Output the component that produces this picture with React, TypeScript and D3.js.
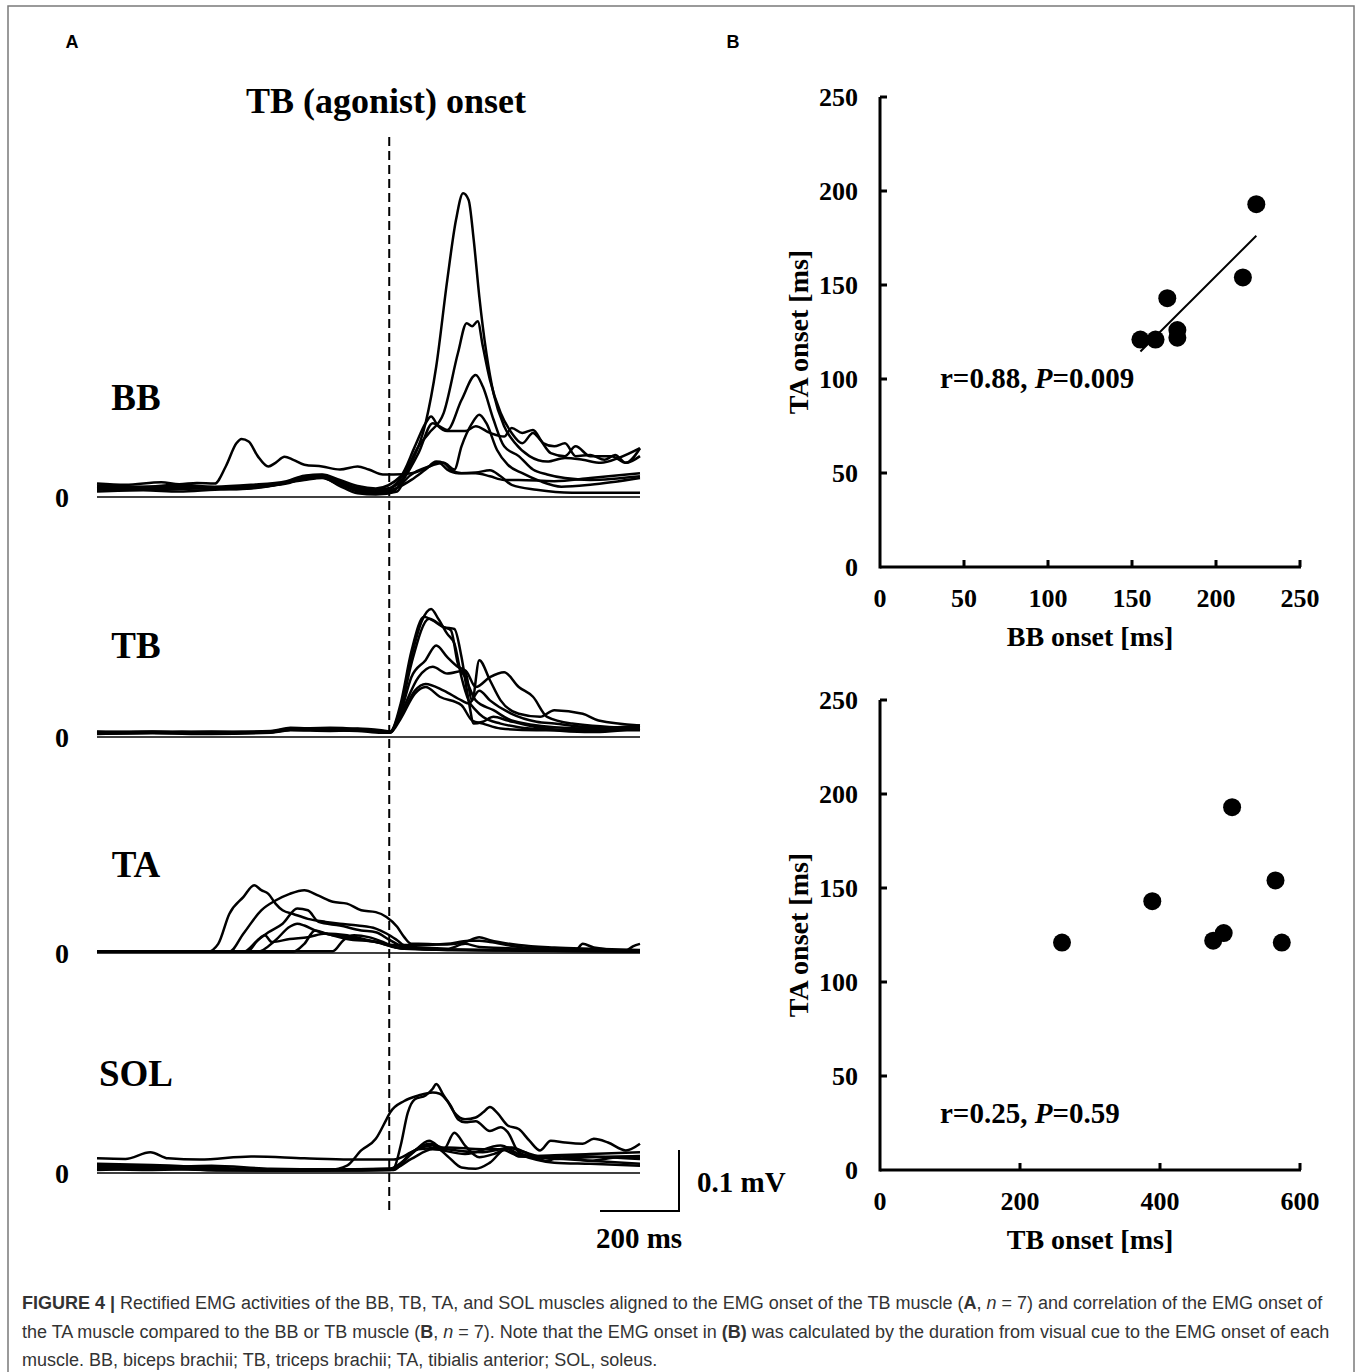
import * as d3 from 'd3'

// ---- Panel A: rectified EMG traces, [time from TB onset (ms), amplitude (µV)] ----
const bbTraces: [number, number][][] = [
  [[-740,22],[-668,20],[-577,24],[-532,21],[-487,23],[-442,22],[-414,50],[-387,88],[-374,95],[-356,91],[-333,67],[-306,50],[-288,56],[-265,66],[-243,61],[-215,53],[-170,50],[-125,45],[-80,50],[-52,45],[-16,37],[11,37],[56,39],[101,50],[124,57],[147,45],[174,39],[219,40],[255,44],[282,34],[310,20],[373,12],[463,7],[554,7],[635,7]],
  [[-740,12],[-623,15],[-532,13],[-442,15],[-350,17],[-300,20],[-215,28],[-170,31],[-125,20],[-80,12],[-34,9],[20,20],[56,56],[92,121],[119,214],[147,356],[169,454],[187,498],[201,487],[214,421],[228,329],[246,236],[264,170],[291,116],[319,88],[355,67],[400,58],[445,64],[490,61],[536,56],[581,64],[635,80]],
  [[-740,17],[-623,15],[-532,18],[-442,14],[-350,16],[-260,22],[-215,31],[-170,33],[-125,25],[-80,15],[-34,12],[2,15],[38,39],[74,83],[101,105],[138,138],[174,236],[196,285],[210,280],[224,288],[237,247],[255,192],[282,138],[310,105],[337,88],[364,105],[382,94],[409,72],[445,67],[472,83],[509,67],[563,67],[599,56],[635,67]],
  [[-740,9],[-623,11],[-532,9],[-442,12],[-350,14],[-260,24],[-215,34],[-170,36],[-125,22],[-80,9],[-34,6],[11,10],[38,31],[74,72],[110,121],[147,110],[183,159],[219,200],[237,181],[264,127],[291,83],[328,67],[364,45],[400,37],[445,31],[509,28],[635,34]],
  [[-740,14],[-577,12],[-487,15],[-400,13],[-306,18],[-215,29],[-170,32],[-125,18],[-80,6],[-34,4],[20,9],[38,26],[101,50],[138,56],[165,45],[183,83],[210,121],[228,135],[246,121],[273,77],[300,53],[337,39],[382,26],[436,17],[509,20],[635,31]],
  [[-740,19],[-623,17],[-532,20],[-442,17],[-350,20],[-260,26],[-215,35],[-170,37],[-125,28],[-80,18],[-34,14],[29,34],[65,83],[92,121],[106,132],[124,116],[147,108],[192,108],[219,116],[255,105],[291,99],[310,113],[337,105],[364,110],[391,88],[418,83],[445,88],[472,67],[509,69],[545,61],[572,69],[599,56],[635,80]],
  [[-740,15],[-577,17],[-487,14],[-400,16],[-306,19],[-215,30],[-170,34],[-125,24],[-80,12],[-34,8],[20,15],[56,28],[92,45],[119,58],[138,56],[156,45],[183,39],[219,39],[255,34],[291,28],[328,28],[418,26],[509,31],[635,39]],
]

const tbTraces: [number, number][][] = [
  [[-740,7],[-600,8],[-450,7],[-300,9],[-250,14],[-150,13],[-80,12],[-20,10],[2,9],[29,49],[56,131],[83,191],[106,210],[124,194],[147,169],[165,153],[183,98],[201,60],[219,44],[237,33],[282,22],[328,16],[418,11],[509,8],[635,14]],
  [[-740,6],[-600,7],[-450,6],[-300,8],[-250,12],[-150,15],[-80,13],[-20,9],[2,8],[29,55],[56,140],[88,197],[110,191],[138,180],[165,177],[183,131],[201,60],[214,22],[237,25],[264,33],[300,27],[373,16],[463,11],[635,16]],
  [[-740,8],[-600,9],[-450,8],[-300,10],[-250,15],[-150,12],[-80,14],[-20,11],[2,9],[29,40],[56,98],[92,126],[119,150],[147,131],[174,115],[192,109],[210,60],[228,126],[255,93],[282,60],[328,38],[382,33],[418,44],[490,38],[530,27],[635,19]],
  [[-740,5],[-600,6],[-450,5],[-300,7],[-250,11],[-150,10],[-80,11],[-20,8],[2,7],[29,38],[74,98],[110,115],[147,104],[192,109],[219,82],[255,98],[291,106],[328,82],[364,66],[400,33],[463,22],[635,14]],
  [[-740,9],[-600,8],[-450,9],[-300,8],[-250,13],[-150,14],[-80,12],[-20,10],[2,9],[29,33],[65,76],[92,87],[138,76],[183,60],[201,55],[228,76],[255,60],[310,38],[373,25],[418,22],[509,16],[635,16]],
  [[-740,6],[-600,7],[-450,6],[-300,9],[-250,12],[-150,11],[-80,10],[-20,7],[2,7],[29,30],[65,71],[92,82],[128,66],[183,52],[210,27],[237,22],[282,14],[373,11],[509,11],[635,11]],
  [[-740,7],[-600,8],[-450,7],[-300,8],[-250,13],[-150,12],[-80,11],[-20,9],[2,8],[29,45],[56,120],[101,194],[138,180],[156,175],[174,120],[192,98],[219,60],[264,44],[310,27],[418,16],[509,14],[635,19]],
]

const taTraces: [number, number][][] = [
  [[-740,2],[-600,3],[-480,3],[-460,2],[-433,15],[-405,64],[-369,92],[-342,111],[-324,103],[-306,97],[-288,81],[-270,70],[-243,64],[-206,56],[-161,51],[-125,48],[-80,45],[-34,40],[-7,32],[20,21],[38,13],[74,13],[147,15],[201,20],[228,20],[255,18],[328,10],[418,7],[517,5],[635,3]],
  [[-740,2],[-600,3],[-405,2],[-369,32],[-324,70],[-288,86],[-252,97],[-215,103],[-179,94],[-143,84],[-107,81],[-71,70],[-34,67],[-7,59],[20,43],[38,26],[56,15],[74,15],[147,14],[192,18],[228,26],[255,21],[328,13],[418,9],[517,7],[635,5]],
  [[-740,2],[-369,2],[-333,21],[-306,34],[-270,48],[-233,73],[-206,70],[-179,51],[-125,45],[-71,37],[-34,34],[2,21],[38,10],[147,5],[635,4]],
  [[-740,2],[-333,2],[-288,21],[-252,43],[-233,48],[-215,45],[-188,37],[-143,29],[-107,26],[-34,18],[38,7],[635,3]],
  [[-740,2],[-360,2],[-333,21],[-315,29],[-297,18],[-252,23],[-206,26],[-161,32],[-107,29],[-52,21],[11,13],[147,7],[192,15],[228,10],[635,3]],
  [[-740,2],[-243,2],[-215,15],[-188,37],[-161,32],[-107,23],[-34,18],[38,7],[635,2]],
  [[-740,3],[-143,3],[-116,21],[-89,29],[-52,26],[-16,18],[20,9],[147,5],[472,5],[490,15],[518,9],[599,4],[617,11],[635,15]],
]

const solTraces: [number, number][][] = [
  [[-740,9],[-600,11],[-450,7],[-300,4],[-150,5],[-107,12],[-71,37],[-34,56],[-7,88],[2,99],[38,118],[74,127],[110,132],[128,130],[147,118],[165,99],[192,88],[219,91],[237,99],[255,108],[273,99],[300,78],[328,72],[355,53],[382,37],[409,53],[445,50],[490,48],[518,56],[554,50],[599,37],[635,48]],
  [[-740,15],[-600,13],[-450,9],[-300,5],[-150,4],[2,5],[11,7],[29,45],[47,99],[65,121],[92,127],[110,138],[119,146],[138,127],[156,110],[174,88],[192,83],[219,85],[255,69],[282,75],[300,67],[328,34],[364,26],[400,20],[436,27],[509,20],[581,26],[635,26]],
  [[-740,11],[-600,9],[-450,12],[-300,7],[-150,6],[2,7],[56,31],[101,53],[138,39],[165,66],[192,45],[228,26],[264,31],[300,39],[328,27],[418,29],[509,31],[635,34]],
  [[-740,5],[-600,7],[-450,5],[-300,4],[-150,4],[11,5],[56,34],[110,45],[147,28],[183,9],[219,7],[255,17],[300,42],[328,37],[418,23],[509,26],[635,28]],
  [[-740,7],[-600,5],[-450,7],[-300,5],[-150,6],[11,7],[74,39],[147,42],[237,39],[282,39],[328,28],[418,24],[509,20],[635,15]],
  [[-740,24],[-668,23],[-605,34],[-560,24],[-480,22],[-350,27],[-215,24],[-100,22],[11,22],[56,34],[101,48],[147,39],[237,34],[310,42],[373,27],[463,28],[554,26],[635,23]],
  [[-740,12],[-600,11],[-420,4],[-250,4],[11,7],[56,23],[110,39],[192,31],[282,45],[328,31],[418,17],[509,15],[635,12]],
]

// ---- Panel B: EMG onset per subject (ms) ----
const bbOnset = [155, 164, 171, 177, 177, 216, 224]
const tbOnset = [260, 574, 389, 491, 476, 565, 503]
const taOnset = [121, 121, 143, 126, 122, 154, 193]

const bbTicks = [0, 50, 100, 150, 200, 250]
const tbTicks = [0, 200, 400, 600]
const taTicks = [0, 50, 100, 150, 200, 250]

const SERIF = '"Liberation Serif", "Times New Roman", serif'
const SANS = '"Liberation Sans", Arial, Helvetica, sans-serif'

const xTime = d3.scaleLinear().domain([-740, 635]).range([97, 640])
const MV_PX = 61 // 0.1 mV

const muscles = [
  { name: 'BB', zero: 497, labelY: 410, traces: bbTraces },
  { name: 'TB', zero: 737, labelY: 658, traces: tbTraces },
  { name: 'TA', zero: 953, labelY: 877, traces: taTraces },
  { name: 'SOL', zero: 1173, labelY: 1086, traces: solTraces },
]

function Muscle({ m }: { m: (typeof muscles)[number] }) {
  const y = d3.scaleLinear().domain([0, 100]).range([m.zero, m.zero - MV_PX])
  const line = d3
    .line<[number, number]>()
    .x((d) => xTime(d[0]))
    .y((d) => y(d[1]))
    .curve(d3.curveMonotoneX)
  return (
    <g>
      <line x1={xTime(-740)} x2={xTime(635)} y1={m.zero} y2={m.zero} stroke="#000" strokeWidth={1.6} />
      {m.traces.map((t, i) => (
        <path key={i} d={line(t) || ''} fill="none" stroke="#000" strokeWidth={2.5} strokeLinejoin="round" />
      ))}
      <text x={136} y={m.labelY} textAnchor="middle" fontFamily={SERIF} fontWeight="bold" fontSize={37}>
        {m.name}
      </text>
      <text x={62} y={m.zero + 10} textAnchor="middle" fontFamily={SERIF} fontWeight="bold" fontSize={28}>
        0
      </text>
    </g>
  )
}

type ScatterProps = {
  xs: number[]
  ys: number[]
  xScale: d3.ScaleLinear<number, number>
  yScale: d3.ScaleLinear<number, number>
  xTicks: number[]
  yTicks: number[]
  xTitle: string
  r: string
  p: string
  annX: number
  annY: number
  fit?: boolean
}

function Scatter({ xs, ys, xScale, yScale, xTicks, yTicks, xTitle, r, p, annX, annY, fit }: ScatterProps) {
  const [x0, x1] = xScale.range()
  const [y0, y1] = yScale.range()
  const tick = 7
  let fitLine = null
  if (fit) {
    const mx = d3.mean(xs) as number
    const my = d3.mean(ys) as number
    const sxy = d3.sum(xs, (v, i) => (v - mx) * (ys[i] - my))
    const sxx = d3.sum(xs, (v) => (v - mx) ** 2)
    const slope = sxy / sxx
    const lo = d3.min(xs) as number
    const hi = d3.max(xs) as number
    fitLine = (
      <line
        x1={xScale(lo)}
        y1={yScale(my + slope * (lo - mx))}
        x2={xScale(hi)}
        y2={yScale(my + slope * (hi - mx))}
        stroke="#000"
        strokeWidth={2}
      />
    )
  }
  return (
    <g fontFamily={SERIF} fontWeight="bold">
      <line x1={x0} x2={x1 + 1} y1={y0} y2={y0} stroke="#000" strokeWidth={3} />
      <line x1={x0} x2={x0} y1={y0 + 1.5} y2={y1} stroke="#000" strokeWidth={3} />
      {xTicks.map((t) => (
        <g key={'x' + t}>
          {t > 0 && <line x1={xScale(t)} x2={xScale(t)} y1={y0} y2={y0 - tick} stroke="#000" strokeWidth={3} />}
          <text x={xScale(t)} y={y0 + 40} textAnchor="middle" fontSize={26}>
            {t}
          </text>
        </g>
      ))}
      {yTicks.map((t) => (
        <g key={'y' + t}>
          {t > 0 && <line x1={x0} x2={x0 + tick} y1={yScale(t)} y2={yScale(t)} stroke="#000" strokeWidth={3} />}
          <text x={x0 - 22} y={yScale(t) + 9} textAnchor="end" fontSize={26}>
            {t}
          </text>
        </g>
      ))}
      {fitLine}
      {xs.map((v, i) => (
        <circle key={i} cx={xScale(v)} cy={yScale(ys[i])} r={9} fill="#000" />
      ))}
      <text x={(x0 + x1) / 2} y={y0 + 79} textAnchor="middle" fontSize={28}>
        {xTitle}
      </text>
      <text
        transform={`translate(${x0 - 72},${(y0 + y1) / 2}) rotate(-90)`}
        textAnchor="middle"
        fontSize={28}
      >
        TA onset [ms]
      </text>
      <text x={annX} y={annY} fontSize={29}>
        {`r=${r}, `}
        <tspan fontStyle="italic">P</tspan>
        {`=${p}`}
      </text>
    </g>
  )
}

export default function App() {
  const sx1 = d3.scaleLinear().domain([0, 250]).range([880, 1300])
  const sy1 = d3.scaleLinear().domain([0, 250]).range([567, 97])
  const sx2 = d3.scaleLinear().domain([0, 600]).range([880, 1300])
  const sy2 = d3.scaleLinear().domain([0, 250]).range([1170, 700])
  const barPx = xTime(200) - xTime(0)

  return (
    <div style={{ position: 'absolute', left: 0, top: 0 }}>
      <svg width={1360} height={1372} style={{ display: 'block', background: '#fff' }}>
        <rect x={8} y={6} width={1346} height={1400} fill="none" stroke="#7a7a7a" strokeWidth={1.5} />

        <text x={72} y={48} textAnchor="middle" fontFamily={SANS} fontWeight="bold" fontSize={18}>A</text>
        <text x={733} y={48} textAnchor="middle" fontFamily={SANS} fontWeight="bold" fontSize={18}>B</text>

        <text x={386} y={113} textAnchor="middle" fontFamily={SERIF} fontWeight="bold" fontSize={36}>
          TB (agonist) onset
        </text>
        <line x1={xTime(0)} x2={xTime(0)} y1={137} y2={1214} stroke="#000" strokeWidth={2} strokeDasharray="9,5" />

        {muscles.map((m) => (
          <Muscle key={m.name} m={m} />
        ))}

        {/* scale bar */}
        <path
          d={`M${679 - barPx},1211 H679 V${1211 - MV_PX}`}
          fill="none"
          stroke="#000"
          strokeWidth={2}
        />
        <text x={697} y={1192} fontFamily={SERIF} fontWeight="bold" fontSize={29}>0.1 mV</text>
        <text x={639} y={1248} textAnchor="middle" fontFamily={SERIF} fontWeight="bold" fontSize={29}>200 ms</text>

        <Scatter
          xs={bbOnset}
          ys={taOnset}
          xScale={sx1}
          yScale={sy1}
          xTicks={bbTicks}
          yTicks={taTicks}
          xTitle="BB onset [ms]"
          r="0.88"
          p="0.009"
          annX={940}
          annY={388}
          fit
        />
        <Scatter
          xs={tbOnset}
          ys={taOnset}
          xScale={sx2}
          yScale={sy2}
          xTicks={tbTicks}
          yTicks={taTicks}
          xTitle="TB onset [ms]"
          r="0.25"
          p="0.59"
          annX={940}
          annY={1123}
        />

        <g fontFamily={SANS} fontSize={18} fill="#333">
          <text x={22} y={1309}>
            <tspan fontWeight="bold">FIGURE 4 |</tspan> Rectified EMG activities of the BB, TB, TA, and SOL muscles aligned to the EMG onset of the TB muscle (
            <tspan fontWeight="bold">A</tspan>, <tspan fontStyle="italic">n</tspan> = 7) and correlation of the EMG onset of
          </text>
          <text x={22} y={1338}>
            the TA muscle compared to the BB or TB muscle (<tspan fontWeight="bold">B</tspan>, <tspan fontStyle="italic">n</tspan> = 7). Note that the EMG onset in <tspan fontWeight="bold">(B)</tspan> was calculated by the duration from visual cue to the EMG onset of each
          </text>
          <text x={22} y={1366}>muscle. BB, biceps brachii; TB, triceps brachii; TA, tibialis anterior; SOL, soleus.</text>
        </g>
      </svg>
    </div>
  )
}
